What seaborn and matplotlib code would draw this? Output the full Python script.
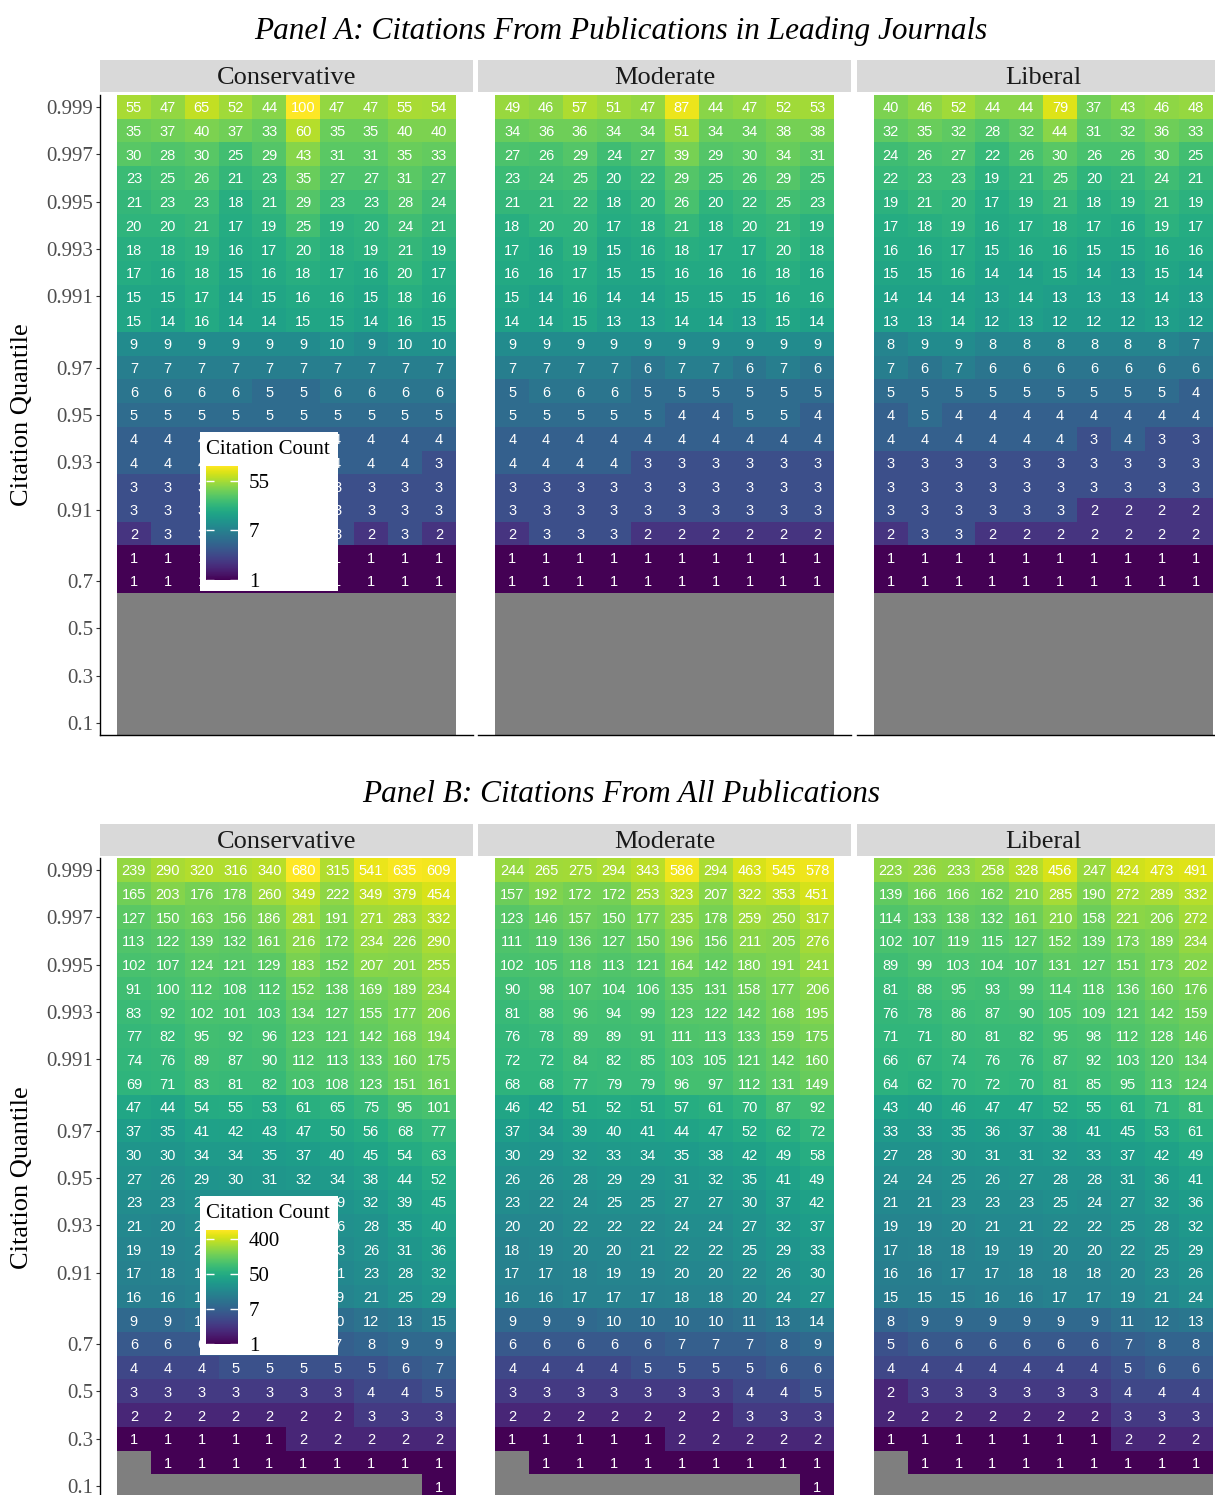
import numpy as np
import pandas as pd
import matplotlib
matplotlib.use("Agg")
import matplotlib.pyplot as plt
from matplotlib.colors import LogNorm, ListedColormap
import seaborn as sns

NA = None

# row order of the heatmaps, top to bottom
quantiles = [0.999, 0.998, 0.997, 0.996, 0.995, 0.994, 0.993, 0.992, 0.991, 0.99,
             0.98, 0.97, 0.96, 0.95, 0.94, 0.93, 0.92, 0.91, 0.9,
             0.8, 0.7, 0.6, 0.5, 0.4, 0.3, 0.2, 0.1]
tick_quantiles = [0.999, 0.997, 0.995, 0.993, 0.991, 0.97, 0.95, 0.93, 0.91,
                  0.7, 0.5, 0.3, 0.1]
groups = ["Conservative", "Moderate", "Liberal"]

# Panel A: citations from publications in leading journals
a_conservative = [
    [55, 47, 65, 52, 44, 100, 47, 47, 55, 54],
    [35, 37, 40, 37, 33, 60, 35, 35, 40, 40],
    [30, 28, 30, 25, 29, 43, 31, 31, 35, 33],
    [23, 25, 26, 21, 23, 35, 27, 27, 31, 27],
    [21, 23, 23, 18, 21, 29, 23, 23, 28, 24],
    [20, 20, 21, 17, 19, 25, 19, 20, 24, 21],
    [18, 18, 19, 16, 17, 20, 18, 19, 21, 19],
    [17, 16, 18, 15, 16, 18, 17, 16, 20, 17],
    [15, 15, 17, 14, 15, 16, 16, 15, 18, 16],
    [15, 14, 16, 14, 14, 15, 15, 14, 16, 15],
    [9, 9, 9, 9, 9, 9, 10, 9, 10, 10],
    [7, 7, 7, 7, 7, 7, 7, 7, 7, 7],
    [6, 6, 6, 6, 5, 5, 6, 6, 6, 6],
    [5, 5, 5, 5, 5, 5, 5, 5, 5, 5],
    [4, 4, 4, 4, 4, 4, 4, 4, 4, 4],
    [4, 4, 4, 4, 4, 4, 4, 4, 4, 3],
    [3, 3, 3, 3, 3, 3, 3, 3, 3, 3],
    [3, 3, 3, 3, 3, 3, 3, 3, 3, 3],
    [2, 3, 3, 3, 3, 3, 3, 2, 3, 2],
    [1, 1, 1, 1, 1, 1, 1, 1, 1, 1],
    [1, 1, 1, 1, 1, 1, 1, 1, 1, 1],
    [NA] * 10, [NA] * 10, [NA] * 10, [NA] * 10, [NA] * 10, [NA] * 10,
]
a_moderate = [
    [49, 46, 57, 51, 47, 87, 44, 47, 52, 53],
    [34, 36, 36, 34, 34, 51, 34, 34, 38, 38],
    [27, 26, 29, 24, 27, 39, 29, 30, 34, 31],
    [23, 24, 25, 20, 22, 29, 25, 26, 29, 25],
    [21, 21, 22, 18, 20, 26, 20, 22, 25, 23],
    [18, 20, 20, 17, 18, 21, 18, 20, 21, 19],
    [17, 16, 19, 15, 16, 18, 17, 17, 20, 18],
    [16, 16, 17, 15, 15, 16, 16, 16, 18, 16],
    [15, 14, 16, 14, 14, 15, 15, 15, 16, 16],
    [14, 14, 15, 13, 13, 14, 14, 13, 15, 14],
    [9, 9, 9, 9, 9, 9, 9, 9, 9, 9],
    [7, 7, 7, 7, 6, 7, 7, 6, 7, 6],
    [5, 6, 6, 6, 5, 5, 5, 5, 5, 5],
    [5, 5, 5, 5, 5, 4, 4, 5, 5, 4],
    [4, 4, 4, 4, 4, 4, 4, 4, 4, 4],
    [4, 4, 4, 4, 3, 3, 3, 3, 3, 3],
    [3, 3, 3, 3, 3, 3, 3, 3, 3, 3],
    [3, 3, 3, 3, 3, 3, 3, 3, 3, 3],
    [2, 3, 3, 3, 2, 2, 2, 2, 2, 2],
    [1, 1, 1, 1, 1, 1, 1, 1, 1, 1],
    [1, 1, 1, 1, 1, 1, 1, 1, 1, 1],
    [NA] * 10, [NA] * 10, [NA] * 10, [NA] * 10, [NA] * 10, [NA] * 10,
]
a_liberal = [
    [40, 46, 52, 44, 44, 79, 37, 43, 46, 48],
    [32, 35, 32, 28, 32, 44, 31, 32, 36, 33],
    [24, 26, 27, 22, 26, 30, 26, 26, 30, 25],
    [22, 23, 23, 19, 21, 25, 20, 21, 24, 21],
    [19, 21, 20, 17, 19, 21, 18, 19, 21, 19],
    [17, 18, 19, 16, 17, 18, 17, 16, 19, 17],
    [16, 16, 17, 15, 16, 16, 15, 15, 16, 16],
    [15, 15, 16, 14, 14, 15, 14, 13, 15, 14],
    [14, 14, 14, 13, 14, 13, 13, 13, 14, 13],
    [13, 13, 14, 12, 13, 12, 12, 12, 13, 12],
    [8, 9, 9, 8, 8, 8, 8, 8, 8, 7],
    [7, 6, 7, 6, 6, 6, 6, 6, 6, 6],
    [5, 5, 5, 5, 5, 5, 5, 5, 5, 4],
    [4, 5, 4, 4, 4, 4, 4, 4, 4, 4],
    [4, 4, 4, 4, 4, 4, 3, 4, 3, 3],
    [3, 3, 3, 3, 3, 3, 3, 3, 3, 3],
    [3, 3, 3, 3, 3, 3, 3, 3, 3, 3],
    [3, 3, 3, 3, 3, 3, 2, 2, 2, 2],
    [2, 3, 3, 2, 2, 2, 2, 2, 2, 2],
    [1, 1, 1, 1, 1, 1, 1, 1, 1, 1],
    [1, 1, 1, 1, 1, 1, 1, 1, 1, 1],
    [NA] * 10, [NA] * 10, [NA] * 10, [NA] * 10, [NA] * 10, [NA] * 10,
]

# Panel B: citations from all publications
b_conservative = [
    [239, 290, 320, 316, 340, 680, 315, 541, 635, 609],
    [165, 203, 176, 178, 260, 349, 222, 349, 379, 454],
    [127, 150, 163, 156, 186, 281, 191, 271, 283, 332],
    [113, 122, 139, 132, 161, 216, 172, 234, 226, 290],
    [102, 107, 124, 121, 129, 183, 152, 207, 201, 255],
    [91, 100, 112, 108, 112, 152, 138, 169, 189, 234],
    [83, 92, 102, 101, 103, 134, 127, 155, 177, 206],
    [77, 82, 95, 92, 96, 123, 121, 142, 168, 194],
    [74, 76, 89, 87, 90, 112, 113, 133, 160, 175],
    [69, 71, 83, 81, 82, 103, 108, 123, 151, 161],
    [47, 44, 54, 55, 53, 61, 65, 75, 95, 101],
    [37, 35, 41, 42, 43, 47, 50, 56, 68, 77],
    [30, 30, 34, 34, 35, 37, 40, 45, 54, 63],
    [27, 26, 29, 30, 31, 32, 34, 38, 44, 52],
    [23, 23, 25, 26, 27, 28, 29, 32, 39, 45],
    [21, 20, 22, 23, 24, 25, 26, 28, 35, 40],
    [19, 19, 20, 21, 21, 22, 23, 26, 31, 36],
    [17, 18, 19, 19, 19, 20, 21, 23, 28, 32],
    [16, 16, 17, 17, 18, 18, 19, 21, 25, 29],
    [9, 9, 10, 10, 10, 10, 10, 12, 13, 15],
    [6, 6, 6, 6, 6, 7, 7, 8, 9, 9],
    [4, 4, 4, 5, 5, 5, 5, 5, 6, 7],
    [3, 3, 3, 3, 3, 3, 3, 4, 4, 5],
    [2, 2, 2, 2, 2, 2, 2, 3, 3, 3],
    [1, 1, 1, 1, 1, 2, 2, 2, 2, 2],
    [NA, 1, 1, 1, 1, 1, 1, 1, 1, 1],
    [NA, NA, NA, NA, NA, NA, NA, NA, NA, 1],
]
b_moderate = [
    [244, 265, 275, 294, 343, 586, 294, 463, 545, 578],
    [157, 192, 172, 172, 253, 323, 207, 322, 353, 451],
    [123, 146, 157, 150, 177, 235, 178, 259, 250, 317],
    [111, 119, 136, 127, 150, 196, 156, 211, 205, 276],
    [102, 105, 118, 113, 121, 164, 142, 180, 191, 241],
    [90, 98, 107, 104, 106, 135, 131, 158, 177, 206],
    [81, 88, 96, 94, 99, 123, 122, 142, 168, 195],
    [76, 78, 89, 89, 91, 111, 113, 133, 159, 175],
    [72, 72, 84, 82, 85, 103, 105, 121, 142, 160],
    [68, 68, 77, 79, 79, 96, 97, 112, 131, 149],
    [46, 42, 51, 52, 51, 57, 61, 70, 87, 92],
    [37, 34, 39, 40, 41, 44, 47, 52, 62, 72],
    [30, 29, 32, 33, 34, 35, 38, 42, 49, 58],
    [26, 26, 28, 29, 29, 31, 32, 35, 41, 49],
    [23, 22, 24, 25, 25, 27, 27, 30, 37, 42],
    [20, 20, 22, 22, 22, 24, 24, 27, 32, 37],
    [18, 19, 20, 20, 21, 22, 22, 25, 29, 33],
    [17, 17, 18, 19, 19, 20, 20, 22, 26, 30],
    [16, 16, 17, 17, 17, 18, 18, 20, 24, 27],
    [9, 9, 9, 10, 10, 10, 10, 11, 13, 14],
    [6, 6, 6, 6, 6, 7, 7, 7, 8, 9],
    [4, 4, 4, 4, 5, 5, 5, 5, 6, 6],
    [3, 3, 3, 3, 3, 3, 3, 4, 4, 5],
    [2, 2, 2, 2, 2, 2, 2, 3, 3, 3],
    [1, 1, 1, 1, 1, 2, 2, 2, 2, 2],
    [NA, 1, 1, 1, 1, 1, 1, 1, 1, 1],
    [NA, NA, NA, NA, NA, NA, NA, NA, NA, 1],
]
b_liberal = [
    [223, 236, 233, 258, 328, 456, 247, 424, 473, 491],
    [139, 166, 166, 162, 210, 285, 190, 272, 289, 332],
    [114, 133, 138, 132, 161, 210, 158, 221, 206, 272],
    [102, 107, 119, 115, 127, 152, 139, 173, 189, 234],
    [89, 99, 103, 104, 107, 131, 127, 151, 173, 202],
    [81, 88, 95, 93, 99, 114, 118, 136, 160, 176],
    [76, 78, 86, 87, 90, 105, 109, 121, 142, 159],
    [71, 71, 80, 81, 82, 95, 98, 112, 128, 146],
    [66, 67, 74, 76, 76, 87, 92, 103, 120, 134],
    [64, 62, 70, 72, 70, 81, 85, 95, 113, 124],
    [43, 40, 46, 47, 47, 52, 55, 61, 71, 81],
    [33, 33, 35, 36, 37, 38, 41, 45, 53, 61],
    [27, 28, 30, 31, 31, 32, 33, 37, 42, 49],
    [24, 24, 25, 26, 27, 28, 28, 31, 36, 41],
    [21, 21, 23, 23, 23, 25, 24, 27, 32, 36],
    [19, 19, 20, 21, 21, 22, 22, 25, 28, 32],
    [17, 18, 18, 19, 19, 20, 20, 22, 25, 29],
    [16, 16, 17, 17, 18, 18, 18, 20, 23, 26],
    [15, 15, 15, 16, 16, 17, 17, 19, 21, 24],
    [8, 9, 9, 9, 9, 9, 9, 11, 12, 13],
    [5, 6, 6, 6, 6, 6, 6, 7, 8, 8],
    [4, 4, 4, 4, 4, 4, 4, 5, 6, 6],
    [2, 3, 3, 3, 3, 3, 3, 4, 4, 4],
    [2, 2, 2, 2, 2, 2, 2, 3, 3, 3],
    [1, 1, 1, 1, 1, 1, 1, 2, 2, 2],
    [NA, 1, 1, 1, 1, 1, 1, 1, 1, 1],
    [NA] * 10,
]

# legend breaks (e^0, e^2, e^4, e^6) and their printed labels
a_breaks, a_break_labels = [np.exp(0), np.exp(2), np.exp(4)], ["1", "7", "55"]
b_breaks, b_break_labels = [np.exp(0), np.exp(2), np.exp(4), np.exp(6)], ["1", "7", "50", "400"]

SERIF = "Liberation Serif"
SANS = "Liberation Sans"
plt.rcParams["font.family"] = SERIF

W, H = 1215, 1495
fig = plt.figure(figsize=(W / 100, H / 100), dpi=100)


def px_axes(x, y, w, h):
    return fig.add_axes([x / W, 1 - (y + h) / H, w / W, h / H])


qlabels = [f"{q:g}" for q in quantiles]
FACET_X0, FACET_W, FACET_STEP = 100, 372.7, 378.4


def draw_panel(title, facets, title_y, strip_y, top, legend_y, breaks, break_labels):
    fig.text(621 / W, 1 - title_y / H, title, ha="center", va="center_baseline",
             fontsize=22.5, style="italic", color="black")
    fig.text(22 / W, 1 - (top + 320) / H, "Citation Quantile", rotation=90,
             ha="center", va="center", fontsize=19, color="black")

    frames = [pd.DataFrame(rows, index=qlabels, dtype=float) for rows in facets]
    vmax = max(np.nanmax(df.values) for df in frames)
    norm = LogNorm(vmin=1, vmax=vmax)

    # legend box drawn over the first facet
    box = px_axes(200, legend_y, 138, 159)
    box.set_facecolor("white")
    box.set_xticks([])
    box.set_yticks([])
    for s in box.spines.values():
        s.set_visible(False)
    box.set_zorder(5)
    box.text(6 / 138, 1 - 15 / 159, "Citation Count", ha="left",
             va="center_baseline", fontsize=15, color="black")
    cax = px_axes(206, legend_y + 34, 32, 114)
    cax.set_zorder(6)

    for i, (name, df) in enumerate(zip(groups, frames)):
        x0 = FACET_X0 + i * FACET_STEP
        sax = px_axes(x0, strip_y, FACET_W, 32)
        sax.set_facecolor("#D9D9D9")
        sax.set_xticks([])
        sax.set_yticks([])
        for s in sax.spines.values():
            s.set_visible(False)
        sax.text(0.5, 0.5, name, ha="center", va="center_baseline", fontsize=19,
                 color="#1A1A1A", transform=sax.transAxes)

        ax = px_axes(x0, top, FACET_W, 640)
        missing = df.isna()
        sns.heatmap(missing.astype(float), mask=~missing, ax=ax, cbar=False,
                    cmap=ListedColormap(["#7F7F7F"]))
        sns.heatmap(df, ax=ax, cmap="viridis", norm=norm, annot=True, fmt=".0f",
                    annot_kws={"color": "white", "fontsize": 10.5, "family": SANS,
                               "va": "center_baseline"},
                    cbar=(i == 0), cbar_ax=cax if i == 0 else None)
        ax.set_xlim(-0.5, df.shape[1] + 0.5)
        ax.set_xticks([])
        ax.set_xlabel("")
        ax.set_ylabel("")
        ax.spines["bottom"].set_visible(True)
        ax.spines["bottom"].set_linewidth(1.0)
        if i == 0:
            ax.spines["left"].set_visible(True)
            ax.spines["left"].set_linewidth(1.0)
            pos = [qlabels.index(f"{q:g}") + 0.5 for q in tick_quantiles]
            ax.set_yticks(pos)
            ax.set_yticklabels([f"{q:g}" for q in tick_quantiles], rotation=0,
                               va="center_baseline")
            ax.tick_params(axis="y", length=3, width=0.8, color="#333333",
                           labelsize=15, labelcolor="#4D4D4D", pad=2)
            cb = ax.collections[-1].colorbar
            cb.outline.set_visible(False)
            cb.ax.minorticks_off()
            cb.ax.set_yticks(breaks)
            cb.ax.set_yticklabels(break_labels, va="center_baseline")
            cb.ax.tick_params(which="major", direction="in", length=6, width=1,
                              color="white", left=True, right=True,
                              labelleft=False, labelright=True, labelsize=15,
                              labelcolor="black", pad=8)
        else:
            ax.set_yticks([])


draw_panel("Panel A: Citations From Publications in Leading Journals",
           [a_conservative, a_moderate, a_liberal],
           title_y=28, strip_y=60, top=95, legend_y=432,
           breaks=a_breaks, break_labels=a_break_labels)
draw_panel("Panel B: Citations From All Publications",
           [b_conservative, b_moderate, b_liberal],
           title_y=791, strip_y=824, top=858, legend_y=1196,
           breaks=b_breaks, break_labels=b_break_labels)

fig.savefig("out.png", dpi=100, facecolor="white")
